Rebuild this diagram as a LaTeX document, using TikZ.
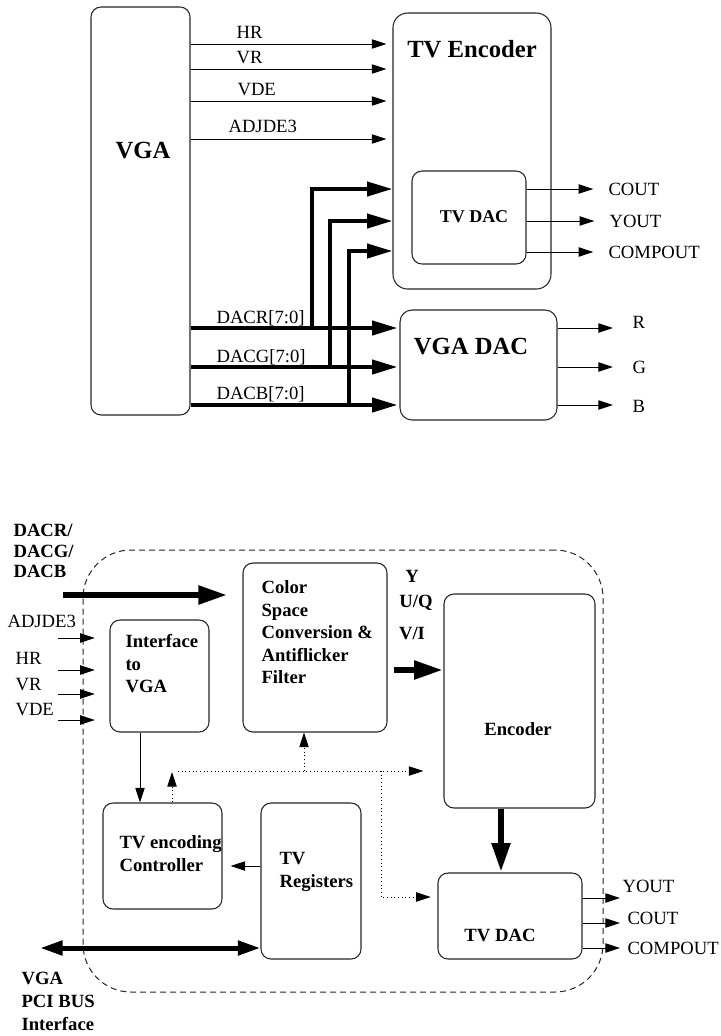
\documentclass[tikz,border=0pt]{standalone}
\usepackage{fontspec}
\setmainfont{Liberation Serif}
\usetikzlibrary{arrows.meta, positioning, calc, fit}
\tikzset{
  every picture/.style={line width=0.8pt},
  blk/.style={draw=black!85, rounded corners=#1, inner sep=0pt},
  blk/.default=7.5pt,
  sig/.style={-{Triangle[length=11pt, width=7pt]}, draw=black, line width=0.75pt},
  ctl/.style={sig, dotted},
  bus/.style={-{Triangle[length=19pt, width=10.5pt]}, line width=3pt},
  fat/.style={-{Triangle[length=22pt, width=13pt]}, line width=5pt},
  lbl/.style={font=\fontsize{14}{16.9}\selectfont, inner sep=0pt},
  blbl/.style={font=\fontsize{14}{16.9}\selectfont\bfseries, inner sep=0pt, align=left},
  hdr/.style={font=\fontsize{18.5}{22}\selectfont\bfseries, inner sep=0pt},
}

\begin{document}
\begin{tikzpicture}[x=0.75pt, y=-0.75pt,
    dacl/.style={font=\fontsize{13.5}{16}\selectfont\bfseries, inner sep=0pt},
    pci/.style={{Triangle[length=17pt, width=10.5pt]}-{Triangle[length=17pt, width=10.5pt]}, line width=3.75pt},
  ]
  \useasboundingbox (0,0) rectangle (721,1036);

  % top: VGA, TV encoder, VGA DAC
  \node[blk, fit={(91,7) (190,415)}] (vga) {};
  \node[hdr, anchor=base] (vgat) at (143,158) {VGA};
  \node[blk=11pt, fit={(393,13) (551,289)}] (tvenc) {};
  \node[hdr, anchor=base] (tvenct) at (472,57) {TV Encoder};
  \node[blk, fit={(412,171) (526,264)}] (tvdac) {};
  \node[dacl, anchor=base] (tvdact) at (474,222) {TV DAC};
  \node[blk=9pt, fit={(400,310) (557,420)}] (vgadac) {};
  \node[hdr, anchor=base] (vgadact) at (471,354) {VGA DAC};

  % sync signals
  \node[lbl, anchor=base west] (hr) at (236,38) {HR};
  \node[lbl, anchor=base west] (vr) at (236,63) {VR};
  \node[lbl, anchor=base west] (vde) at (237,95) {VDE};
  \node[lbl, anchor=base west] (adj) at (228,132) {ADJDE3};
  \foreach \yy in {44,69,101,139}
    \draw[sig, shorten >=4.5pt] (vga.east |- 0,\yy) -- (tvenc.west |- 0,\yy);

  % DAC buses
  \node[lbl, anchor=base west] (dacr) at (216,323) {DACR[7:0]};
  \node[lbl, anchor=base west] (dacg) at (216,362) {DACG[7:0]};
  \node[lbl, anchor=base west] (dacb) at (216,399) {DACB[7:0]};
  \foreach \yy/\xx/\yt/\nm in {328/312/189/r, 367/330/221/g, 405/349/251/b} {
    \coordinate (tap\nm) at (\xx,\yy);
    \draw[bus, shorten >=1.5pt] (vga.east |- 0,\yy) -- (vgadac.west |- 0,\yy);
    \draw[bus] (tap\nm) |- (tvenc.west |- 0,\yt);
  }

  % outputs
  \node[lbl, anchor=west] (cout) at (608,189) {COUT};
  \node[lbl, anchor=west] (yout) at (609,221) {YOUT};
  \node[lbl, anchor=west] (comp) at (608,252) {COMPOUT};
  \foreach \nm in {cout,yout,comp}
    \draw[sig, shorten >=11pt] (tvdac.east |- \nm.west) -- (\nm.west);
  \node[lbl, anchor=base west] (rr) at (632,328) {R};
  \node[lbl, anchor=base west] (gg) at (632,373) {G};
  \node[lbl, anchor=base west] (bb) at (632,412) {B};
  \foreach \yy in {328,367,405}
    \draw[sig] (vgadac.east |- 0,\yy) -- (613,\yy);

  % bottom: TV encoder inside
  \node[blk=36pt, dash pattern=on 4.5pt off 3pt, line width=0.75pt, fit={(83,550) (603,992)}] (chip) {};
  \node[blk, fit={(110,620) (209,732)}] (iface) {};
  \node[blbl, anchor=north west] (ifacet) at (125,634) {Interface\\to\\VGA};
  \node[blk, fit={(243,563) (387,732)}] (csc) {};
  \node[blbl, anchor=north west] (csct) at (261,580) {Color\\Space\\Conversion \&\\Antiflicker\\Filter};
  \node[blk, fit={(444,594) (595,808)}] (enc) {};
  \node[blbl, anchor=base] (enct) at (518,735) {Encoder};
  \node[blk, fit={(103,803) (222,909)}] (ctrl) {};
  \node[blbl, anchor=north west] (ctrlt) at (119,835) {TV encoding\\Controller};
  \node[blk, fit={(261,803) (361,959)}] (regs) {};
  \node[blbl, anchor=north west, font=\fontsize{14}{17.2}\selectfont\bfseries] (regst) at (279,852) {TV\\Registers};
  \node[blk, fit={(438,873) (582,959)}] (dac2) {};
  \node[blbl, anchor=base] (dac2t) at (500,941) {TV DAC};

  % inputs
  \node[blbl, anchor=north west, font=\fontsize{14}{15.4}\selectfont\bfseries] (dacin) at (13,524) {DACR/\\DACG/\\DACB};
  \draw[fat, shorten >=11pt] (63,595) -- (csc.west |- 0,595);
  \node[lbl, anchor=base west] (adj2) at (7,627) {ADJDE3};
  \node[lbl, anchor=base west] (hr2) at (15,664) {HR};
  \node[lbl, anchor=base west] (vr2) at (15,690) {VR};
  \node[lbl, anchor=base west] (vde2) at (15,715) {VDE};
  \foreach \yy in {638,670,694,720}
    \draw[sig, shorten >=11pt] (58,\yy) -- (iface.west |- 0,\yy);

  % data path
  \node[blbl, anchor=base] (ysig) at (412,582) {Y};
  \node[blbl, anchor=base] (uq) at (416,607) {U/Q};
  \node[blbl, anchor=base] (vi) at (412,639) {V/I};
  \draw[fat, shorten <=4.5pt] (csc.east |- 0,670) -- (enc.west |- 0,670);
  \draw[fat] (enc.south -| 501,0) -- (dac2.north -| 501,0);

  % control
  \draw[sig] (iface.south -| 140,0) -- (ctrl.north -| 140,0);
  \draw[sig, shorten >=6pt] (regs.west |- 0,866) -- (ctrl.east |- 0,866);
  \coordinate (hub) at (381,771);
  \draw[ctl] (ctrl.north -| 172,0) -- (172,772);
  \draw[ctl, shorten >=15pt] (178,771) -- (enc.west |- 0,771);
  \draw[ctl] (304,771) -- (csc.south -| 304,0);
  \draw[ctl, shorten >=5pt] (hub) |- (dac2.west |- 0,897);

  % PCI bus
  \draw[pci] (40,948) -- (regs.west |- 0,948);
  \node[blbl, anchor=north west, font=\fontsize{14}{17.2}\selectfont\bfseries] (pcit) at (21,972) {VGA\\PCI BUS\\Interface};

  % outputs
  \node[lbl, anchor=base west] (yout2) at (622,892) {YOUT};
  \node[lbl, anchor=base west] (cout2) at (627,924) {COUT};
  \node[lbl, anchor=base west] (comp2) at (627,954) {COMPOUT};
  \foreach \yy in {898,923,948}
    \draw[sig] (dac2.east |- 0,\yy) -- (620,\yy);
\end{tikzpicture}
\end{document}
